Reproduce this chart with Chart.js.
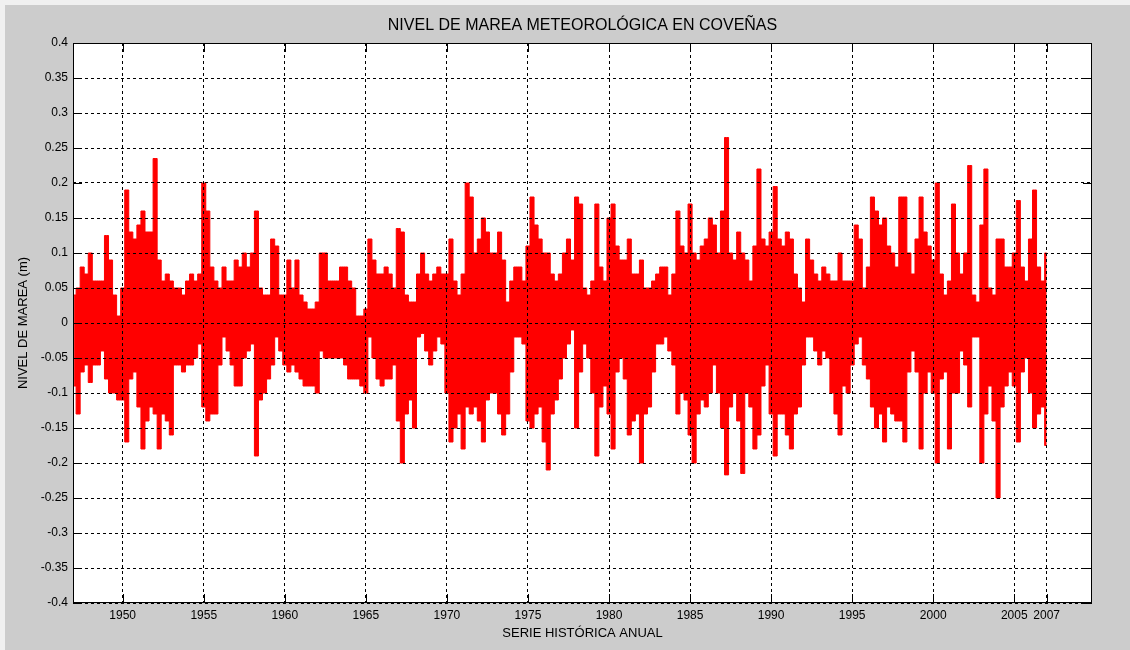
<!DOCTYPE html>
<html>
<head>
<meta charset="utf-8">
<script src="https://cdn.jsdelivr.net/npm/chart.js@4/dist/chart.umd.min.js"></script>
<style>
    html, body { margin: 0; padding: 0; background: #f0f0f0; }
    canvas { display: block; }
</style>
</head>
<body>
<canvas id="graph1" width="1130" height="650"></canvas>
<script>
// sample times (years), read every quarter year off the plot
const years = [
    1947, 1947.25, 1947.5, 1947.75, 1948, 1948.25, 1948.5, 1948.75, 1949, 1949.25, 1949.5, 1949.75,
    1950, 1950.25, 1950.5, 1950.75, 1951, 1951.25, 1951.5, 1951.75, 1952, 1952.25, 1952.5, 1952.75,
    1953, 1953.25, 1953.5, 1953.75, 1954, 1954.25, 1954.5, 1954.75, 1955, 1955.25, 1955.5, 1955.75,
    1956, 1956.25, 1956.5, 1956.75, 1957, 1957.25, 1957.5, 1957.75, 1958, 1958.25, 1958.5, 1958.75,
    1959, 1959.25, 1959.5, 1959.75, 1960, 1960.25, 1960.5, 1960.75, 1961, 1961.25, 1961.5, 1961.75,
    1962, 1962.25, 1962.5, 1962.75, 1963, 1963.25, 1963.5, 1963.75, 1964, 1964.25, 1964.5, 1964.75,
    1965, 1965.25, 1965.5, 1965.75, 1966, 1966.25, 1966.5, 1966.75, 1967, 1967.25, 1967.5, 1967.75,
    1968, 1968.25, 1968.5, 1968.75, 1969, 1969.25, 1969.5, 1969.75, 1970, 1970.25, 1970.5, 1970.75,
    1971, 1971.25, 1971.5, 1971.75, 1972, 1972.25, 1972.5, 1972.75, 1973, 1973.25, 1973.5, 1973.75,
    1974, 1974.25, 1974.5, 1974.75, 1975, 1975.25, 1975.5, 1975.75, 1976, 1976.25, 1976.5, 1976.75,
    1977, 1977.25, 1977.5, 1977.75, 1978, 1978.25, 1978.5, 1978.75, 1979, 1979.25, 1979.5, 1979.75,
    1980, 1980.25, 1980.5, 1980.75, 1981, 1981.25, 1981.5, 1981.75, 1982, 1982.25, 1982.5, 1982.75,
    1983, 1983.25, 1983.5, 1983.75, 1984, 1984.25, 1984.5, 1984.75, 1985, 1985.25, 1985.5, 1985.75,
    1986, 1986.25, 1986.5, 1986.75, 1987, 1987.25, 1987.5, 1987.75, 1988, 1988.25, 1988.5, 1988.75,
    1989, 1989.25, 1989.5, 1989.75, 1990, 1990.25, 1990.5, 1990.75, 1991, 1991.25, 1991.5, 1991.75,
    1992, 1992.25, 1992.5, 1992.75, 1993, 1993.25, 1993.5, 1993.75, 1994, 1994.25, 1994.5, 1994.75,
    1995, 1995.25, 1995.5, 1995.75, 1996, 1996.25, 1996.5, 1996.75, 1997, 1997.25, 1997.5, 1997.75,
    1998, 1998.25, 1998.5, 1998.75, 1999, 1999.25, 1999.5, 1999.75, 2000, 2000.25, 2000.5, 2000.75,
    2001, 2001.25, 2001.5, 2001.75, 2002, 2002.25, 2002.5, 2002.75, 2003, 2003.25, 2003.5, 2003.75,
    2004, 2004.25, 2004.5, 2004.75, 2005, 2005.25, 2005.5, 2005.75, 2006, 2006.25, 2006.5, 2006.75,
    2007
];

// highest level reached in each quarter (m)
const nivelMax = [
    0.04, 0.05, 0.08, 0.07, 0.10, 0.06, 0.06, 0.06, 0.125, 0.09, 0.04, 0.01,
    0.05, 0.19, 0.13, 0.12, 0.14, 0.16, 0.13, 0.13, 0.235, 0.09, 0.06, 0.07,
    0.06, 0.05, 0.05, 0.04, 0.06, 0.07, 0.06, 0.07, 0.20, 0.16, 0.08, 0.06,
    0.05, 0.08, 0.06, 0.06, 0.09, 0.08, 0.10, 0.08, 0.10, 0.16, 0.05, 0.04,
    0.04, 0.12, 0.11, 0.04, 0.04, 0.09, 0.05, 0.09, 0.04, 0.03, 0.02, 0.02,
    0.03, 0.10, 0.10, 0.06, 0.06, 0.06, 0.08, 0.08, 0.06, 0.05, 0.01, 0.01,
    0.02, 0.12, 0.09, 0.07, 0.07, 0.08, 0.07, 0.05, 0.135, 0.13, 0.04, 0.03,
    0.03, 0.07, 0.10, 0.07, 0.06, 0.07, 0.08, 0.07, 0.07, 0.12, 0.06, 0.04,
    0.07, 0.20, 0.18, 0.10, 0.12, 0.15, 0.13, 0.10, 0.10, 0.13, 0.09, 0.03,
    0.06, 0.08, 0.08, 0.06, 0.11, 0.18, 0.14, 0.12, 0.10, 0.10, 0.07, 0.06,
    0.07, 0.10, 0.12, 0.09, 0.18, 0.17, 0.05, 0.04, 0.06, 0.17, 0.08, 0.06,
    0.15, 0.17, 0.11, 0.09, 0.09, 0.12, 0.07, 0.07, 0.09, 0.05, 0.05, 0.06,
    0.07, 0.08, 0.08, 0.04, 0.07, 0.16, 0.11, 0.10, 0.17, 0.10, 0.09, 0.11,
    0.12, 0.15, 0.14, 0.10, 0.16, 0.265, 0.10, 0.09, 0.13, 0.10, 0.09, 0.06,
    0.11, 0.22, 0.12, 0.11, 0.13, 0.195, 0.12, 0.11, 0.13, 0.12, 0.07, 0.05,
    0.03, 0.12, 0.09, 0.07, 0.06, 0.08, 0.07, 0.06, 0.06, 0.10, 0.06, 0.06,
    0.06, 0.14, 0.12, 0.05, 0.08, 0.18, 0.16, 0.14, 0.15, 0.11, 0.10, 0.08,
    0.18, 0.18, 0.10, 0.07, 0.12, 0.18, 0.13, 0.11, 0.09, 0.20, 0.07, 0.04,
    0.06, 0.17, 0.10, 0.07, 0.10, 0.225, 0.04, 0.03, 0.14, 0.22, 0.05, 0.04,
    0.12, 0.12, 0.08, 0.08, 0.10, 0.175, 0.08, 0.06, 0.12, 0.19, 0.08, 0.06,
    0.10
];

// lowest level reached in each quarter (m)
const nivelMin = [
    -0.09, -0.13, -0.07, -0.06, -0.085, -0.06, -0.06, -0.04, -0.08, -0.10, -0.10, -0.11,
    -0.11, -0.17, -0.08, -0.07, -0.12, -0.18, -0.14, -0.12, -0.13, -0.18, -0.13, -0.14,
    -0.16, -0.06, -0.06, -0.07, -0.06, -0.06, -0.05, -0.03, -0.12, -0.14, -0.13, -0.13,
    -0.06, -0.02, -0.04, -0.06, -0.09, -0.09, -0.05, -0.04, -0.03, -0.19, -0.11, -0.10,
    -0.08, -0.06, -0.02, -0.04, -0.06, -0.07, -0.06, -0.07, -0.08, -0.09, -0.09, -0.09,
    -0.10, -0.04, -0.05, -0.05, -0.05, -0.05, -0.05, -0.06, -0.08, -0.08, -0.08, -0.09,
    -0.10, -0.02, -0.05, -0.08, -0.09, -0.08, -0.08, -0.06, -0.14, -0.20, -0.13, -0.11,
    -0.15, -0.02, -0.015, -0.04, -0.06, -0.04, -0.02, -0.03, -0.10, -0.17, -0.15, -0.13,
    -0.18, -0.12, -0.13, -0.12, -0.14, -0.17, -0.11, -0.10, -0.10, -0.13, -0.16, -0.13,
    -0.07, -0.02, -0.02, -0.03, -0.14, -0.15, -0.13, -0.12, -0.17, -0.21, -0.13, -0.11,
    -0.08, -0.05, -0.03, -0.01, -0.15, -0.07, -0.03, -0.05, -0.10, -0.19, -0.12, -0.09,
    -0.13, -0.18, -0.07, -0.05, -0.08, -0.16, -0.14, -0.13, -0.20, -0.13, -0.12, -0.07,
    -0.03, -0.03, -0.02, -0.04, -0.06, -0.13, -0.10, -0.11, -0.16, -0.20, -0.13, -0.11,
    -0.12, -0.10, -0.06, -0.10, -0.15, -0.217, -0.12, -0.10, -0.14, -0.215, -0.10, -0.12,
    -0.18, -0.16, -0.09, -0.06, -0.13, -0.19, -0.13, -0.13, -0.16, -0.18, -0.13, -0.12,
    -0.06, -0.02, -0.02, -0.04, -0.06, -0.04, -0.05, -0.10, -0.13, -0.16, -0.09, -0.10,
    -0.06, -0.03, -0.02, -0.06, -0.08, -0.12, -0.15, -0.13, -0.17, -0.12, -0.13, -0.14,
    -0.14, -0.17, -0.07, -0.04, -0.07, -0.18, -0.10, -0.07, -0.10, -0.20, -0.08, -0.07,
    -0.18, -0.10, -0.10, -0.04, -0.06, -0.12, -0.02, -0.02, -0.20, -0.13, -0.09, -0.14,
    -0.25, -0.12, -0.09, -0.07, -0.09, -0.17, -0.07, -0.05, -0.10, -0.15, -0.13, -0.12,
    -0.175
];

const xTicks = [1950, 1955, 1960, 1965, 1970, 1975, 1980, 1985, 1990, 1995, 2000, 2005, 2007];
const titulo = 'NIVEL DE MAREA METEOROLÓGICA EN COVEÑAS';

const FONT = '"Liberation Sans", Arial, sans-serif';
const RED = 'rgb(255, 0, 0)';

// matlab style figure: gray figure, white axes, inward ticks, box, title
const matlabFrame = {
    id: 'matlabFrame',
    beforeDraw(chart) {
        const { ctx, chartArea: a } = chart;
        ctx.save();
        ctx.fillStyle = '#f0f0f0';
        ctx.fillRect(0, 0, chart.width, chart.height);
        ctx.fillStyle = '#cccccc';
        ctx.fillRect(5, 5, chart.width - 5, chart.height - 5);
        ctx.fillStyle = '#ffffff';
        ctx.fillRect(a.left, a.top, a.right - a.left, a.bottom - a.top);
        ctx.restore();
    },
    afterDraw(chart) {
        const { ctx, chartArea: a, scales } = chart;
        const len = 9;
        ctx.save();
        ctx.strokeStyle = '#000';
        ctx.lineWidth = 1;
        ctx.beginPath();
        scales.x.ticks.forEach(t => {
            const px = Math.round(scales.x.getPixelForValue(t.value)) + 0.5;
            ctx.moveTo(px, a.bottom); ctx.lineTo(px, a.bottom - len);
            ctx.moveTo(px, a.top); ctx.lineTo(px, a.top + len);
        });
        scales.y.ticks.forEach(t => {
            const py = Math.round(scales.y.getPixelForValue(t.value)) + 0.5;
            ctx.moveTo(a.left, py); ctx.lineTo(a.left + len, py);
            ctx.moveTo(a.right, py); ctx.lineTo(a.right - len, py);
        });
        ctx.stroke();
        ctx.strokeRect(Math.round(a.left) + 0.5, Math.round(a.top) + 0.5,
            Math.round(a.right - a.left) - 1, Math.round(a.bottom - a.top) - 1);

        ctx.fillStyle = '#000';
        ctx.font = '16px ' + FONT;
        ctx.textAlign = 'center';
        ctx.textBaseline = 'middle';
        ctx.fillText(titulo, (a.left + a.right) / 2, 26);
        ctx.restore();
    }
};

const config = {
    type: 'line',
    data: {
        datasets: [
            {
                label: 'Máximo',
                data: years.map((t, i) => ({ x: t, y: nivelMax[i] })),
                borderColor: RED,
                backgroundColor: RED,
                borderWidth: 1,
                pointRadius: 0,
                stepped: 'middle',
                fill: '+1'
            },
            {
                label: 'Mínimo',
                data: years.map((t, i) => ({ x: t, y: nivelMin[i] })),
                borderColor: RED,
                backgroundColor: RED,
                borderWidth: 1,
                pointRadius: 0,
                stepped: 'middle',
                fill: false
            }
        ]
    },
    options: {
        responsive: false,
        animation: false,
        layout: { padding: { left: 0, top: 43, right: 38, bottom: 0 } },
        scales: {
            x: {
                type: 'linear',
                min: 1946.934,
                max: 2009.795,
                afterBuildTicks: scale => { scale.ticks = xTicks.map(v => ({ value: v })); },
                afterFit: scale => { scale.height = 47; },
                grid: { color: '#000', lineWidth: 1, drawTicks: false, z: 1 },
                border: { display: false, dash: [3, 3] },
                ticks: {
                    autoSkip: false,
                    maxRotation: 0,
                    padding: 5,
                    color: '#000',
                    font: { family: FONT, size: 12 },
                    callback: v => String(v)
                },
                title: {
                    display: true,
                    text: 'SERIE HISTÓRICA ANUAL',
                    color: '#000',
                    font: { family: FONT, size: 13 },
                    padding: { top: 0, bottom: 9 }
                }
            },
            y: {
                min: -0.4,
                max: 0.4,
                afterFit: scale => { scale.width = 73; },
                grid: { color: '#000', lineWidth: 1, drawTicks: false, z: 1 },
                border: { display: false, dash: [3, 3] },
                ticks: {
                    stepSize: 0.05,
                    autoSkip: false,
                    padding: 5,
                    color: '#000',
                    font: { family: FONT, size: 12 },
                    callback: v => String(+v.toFixed(2))
                },
                title: {
                    display: true,
                    text: 'NIVEL DE MAREA (m)',
                    color: '#000',
                    font: { family: FONT, size: 13 },
                    padding: { top: 16, bottom: 0 }
                }
            }
        },
        plugins: {
            legend: { display: false },
            tooltip: { enabled: false },
            title: { display: false }
        }
    },
    plugins: [matlabFrame]
};

const myChart = new Chart(document.getElementById('graph1'), config);
</script>
</body>
</html>
